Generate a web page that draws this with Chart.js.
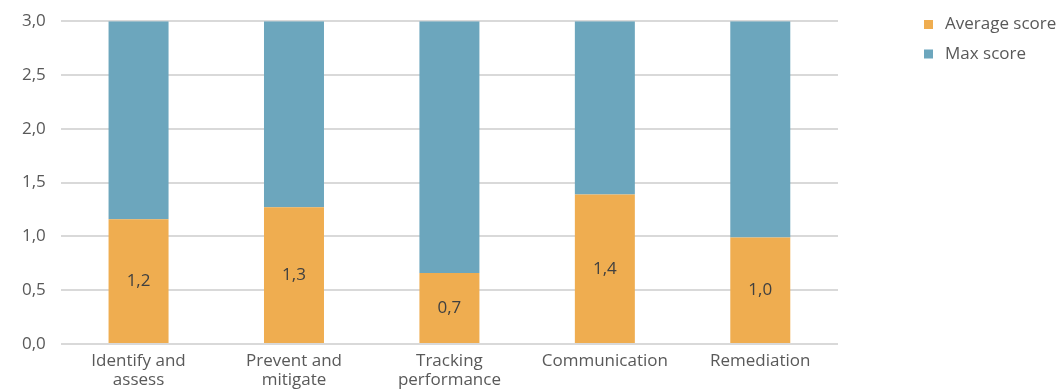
<!DOCTYPE html>
<html>
<head>
<meta charset="utf-8">
<script src="https://cdn.jsdelivr.net/npm/chart.js@4"></script>
<style>
  html, body { margin: 0; padding: 0; background: #fff; overflow: hidden; }
  #wrap { width: 1061px; height: 402px; margin-top: -4px; position: relative; }
</style>
</head>
<body>
<div id="wrap"><canvas id="chart1"></canvas></div>
<script>
// data
const categories = [
  ['Identify and', 'assess'],
  ['Prevent and', 'mitigate'],
  ['Tracking', 'performance'],
  'Communication',
  'Remediation'
];
const averageScore = [1.16, 1.27, 0.66, 1.39, 0.99];
const maxScore = [3, 3, 3, 3, 3];
const yTicks = [0, 0.5, 1, 1.5, 2, 2.5, 3];

const orange = 'rgb(239,173,80)';
const blue = 'rgb(108,166,189)';
const textColor = '#595959';
const fontFamily = '"Open Sans", Arial, sans-serif';

// remaining part of the bar up to the max score
const restScore = maxScore.map((m, i) => +(m - averageScore[i]).toFixed(2));

// labels inside the orange bars
const barLabels = {
  id: 'barLabels',
  afterDatasetsDraw(chart) {
    const ctx = chart.ctx;
    const meta = chart.getDatasetMeta(0);
    ctx.save();
    ctx.font = '17px ' + fontFamily;
    ctx.fillStyle = '#404040';
    ctx.textAlign = 'center';
    ctx.textBaseline = 'middle';
    meta.data.forEach((bar, i) => {
      const txt = averageScore[i].toFixed(1).replace('.', ',');
      ctx.fillText(txt, bar.x, (bar.y + bar.base) / 2);
    });
    ctx.restore();
  }
};

// legend on the right (canvas is shifted up 4px)
const sideLegend = {
  id: 'sideLegend',
  afterDraw(chart) {
    const ctx = chart.ctx;
    ctx.save();
    ctx.font = '17px ' + fontFamily;
    ctx.textBaseline = 'middle';
    chart.data.datasets.forEach((ds, i) => {
      const y = 28.5 + i * 29.5;
      ctx.fillStyle = ds.backgroundColor;
      ctx.fillRect(924, y - 4.5, 9, 9);
      ctx.fillStyle = textColor;
      ctx.fillText(ds.label, 945, y);
    });
    ctx.restore();
  }
};

const data = {
  labels: categories,
  datasets: [{
    label: 'Average score',
    data: averageScore,
    backgroundColor: orange,
    categoryPercentage: 1,
    barPercentage: 0.386
  }, {
    label: 'Max score',
    data: restScore,
    backgroundColor: blue,
    categoryPercentage: 1,
    barPercentage: 0.386
  }]
};

const config = {
  type: 'bar',
  data: data,
  options: {
    responsive: true,
    maintainAspectRatio: false,
    animation: false,
    layout: { padding: { left: 7, right: 223, top: 3, bottom: 0 } },
    plugins: {
      legend: { display: false },
      tooltip: { enabled: false }
    },
    scales: {
      x: {
        stacked: true,
        grid: { display: false, drawTicks: false },
        border: { display: false },
        ticks: {
          color: textColor,
          font: { size: 17, family: fontFamily, lineHeight: 1.12 },
          padding: 8,
          maxRotation: 0
        }
      },
      y: {
        stacked: true,
        min: 0,
        max: 3,
        afterBuildTicks(axis) {
          axis.ticks = yTicks.map(v => ({ value: v }));
        },
        grid: { color: '#d9d9d9', lineWidth: 2, drawTicks: false },
        border: { display: false },
        ticks: {
          color: textColor,
          font: { size: 17, family: fontFamily },
          padding: 15,
          callback: v => Number(v).toFixed(1).replace('.', ',')
        }
      }
    }
  },
  plugins: [barLabels, sideLegend]
};

const myChart = new Chart(document.getElementById('chart1'), config);
</script>
</body>
</html>
